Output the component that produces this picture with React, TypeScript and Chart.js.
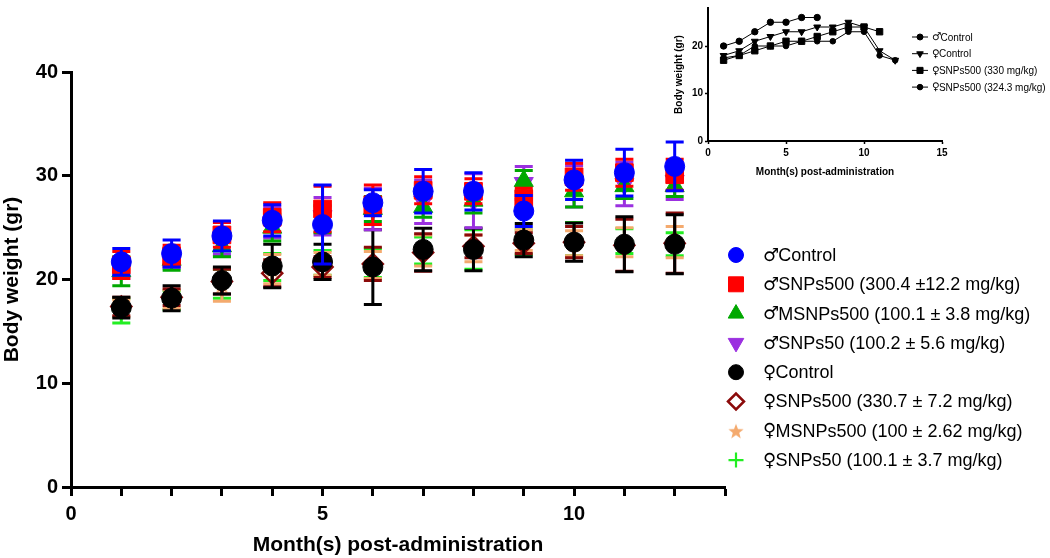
import React, { useEffect, useRef } from 'react';
import { Chart, registerables } from 'chart.js';
import { drawPoint } from 'chart.js/helpers';

Chart.register(...registerables);

// ---------- Main chart data ----------
const months = [1, 2, 3, 4, 5, 6, 7, 8, 9, 10, 11, 12];

const mControlMean = [21.7, 22.5, 24.2, 25.7, 25.3, 27.4, 28.5, 28.5, 26.6, 29.6, 30.3, 30.9];
const mControlSD = [1.3, 1.3, 1.45, 1.5, 3.8, 1.25, 2.1, 1.8, 1.5, 1.9, 2.25, 2.35];
const mSnps500Mean = [21.4, 22.3, 24.3, 26.0, 26.8, 27.2, 28.6, 28.5, 27.8, 29.9, 30.3, 30.1];
const mSnps500SD = [1.3, 1.0, 1.2, 1.4, 2.2, 1.9, 1.3, 1.2, 1.0, 1.3, 1.3, 1.5];
const mMsnps500Mean = [20.8, 21.9, 23.2, 25.0, 25.8, 26.8, 27.0, 27.6, 29.5, 28.5, 29.0, 29.0];
const mMsnps500SD = [1.4, 1.0, 1.0, 1.3, 1.3, 1.2, 1.0, 1.2, 1.0, 1.5, 1.2, 1.0];
const mSnps50Mean = [21.0, 22.0, 23.5, 25.5, 26.1, 26.8, 27.5, 27.6, 29.3, 29.0, 29.2, 29.5];
const mSnps50SD = [0.9, 0.9, 1.1, 1.5, 1.8, 2.0, 2.1, 2.6, 1.6, 2.0, 2.1, 1.8];
const fControlMean = [17.3, 18.2, 19.9, 21.3, 21.7, 21.2, 22.9, 22.9, 23.8, 23.6, 23.4, 23.4];
const fControlSD = [1.0, 1.2, 1.3, 2.1, 1.7, 3.6, 2.05, 2.05, 1.6, 1.85, 2.65, 2.85];
const fSnps500Mean = [17.4, 18.3, 19.8, 20.6, 21.2, 21.5, 22.6, 23.2, 23.5, 23.6, 23.3, 23.5];
const fSnps500SD = [0.9, 0.8, 1.2, 1.3, 1.0, 1.6, 1.8, 1.1, 1.0, 1.5, 2.5, 2.9];
const fMsnps500Mean = [17.2, 18.1, 19.5, 21.0, 21.5, 21.4, 22.8, 23.0, 23.8, 23.5, 23.6, 23.6];
const fMsnps500SD = [0.8, 0.9, 1.6, 1.4, 1.1, 1.3, 1.5, 1.3, 1.0, 1.2, 1.4, 1.5];
const fSnps50Mean = [17.0, 18.0, 19.6, 21.2, 21.6, 21.6, 22.8, 22.9, 23.6, 23.9, 23.7, 23.4];
const fSnps50SD = [1.2, 0.9, 1.4, 1.3, 1.2, 1.4, 1.3, 1.9, 1.2, 1.6, 1.2, 1.1];

const seriesLabels = [
  '♂Control',
  '♂SNPs500 (300.4 ±12.2 mg/kg)',
  '♂MSNPs500 (100.1 ± 3.8 mg/kg)',
  '♂SNPs50 (100.2 ± 5.6 mg/kg)',
  '♀Control',
  '♀SNPs500 (330.7 ± 7.2 mg/kg)',
  '♀MSNPs500 (100 ± 2.62 mg/kg)',
  '♀SNPs50 (100.1 ± 3.7 mg/kg)',
];

const xTickValues = [0, 5, 10];
const yTickStep = 10;

// ---------- Inset data ----------
const insetLabels = ['♂Control', '♀Control', '♀SNPs500 (330 mg/kg)', '♀SNPs500 (324.3 mg/kg)'];
const insetMonthsA = [1, 2, 3, 4, 5, 6, 7];
const insetMControl = [20, 21, 23, 25, 25, 26, 26];
const insetMonthsB = [1, 2, 3, 4, 5, 6, 7, 8, 9, 10, 11, 12];
const insetFControl = [18, 19, 21, 22, 23, 23, 24, 24, 25, 24, 19, 17];
const insetMonthsC = [1, 2, 3, 4, 5, 6, 7, 8, 9, 10, 11];
const insetFSnps330 = [17, 18, 19, 20, 21, 21, 22, 23, 24, 24, 23];
const insetFSnps324 = [17.5, 18, 20, 20, 20, 21, 21, 21, 23, 23, 18, 17];

const FONT = '"Liberation Sans", Arial, Helvetica, sans-serif';
const SYMBOL_FONT = '"DejaVu Sans", sans-serif';

const pts = (xs: number[], ys: number[]) => xs.map((x, i) => ({ x, y: ys[i] }));

function makeStar(size: number, color: string) {
  const c = document.createElement('canvas');
  c.width = size;
  c.height = size;
  const g = c.getContext('2d')!;
  g.fillStyle = color;
  g.beginPath();
  const R = size / 2;
  const r = R * 0.42;
  for (let i = 0; i < 10; i++) {
    const rad = i % 2 === 0 ? R : r;
    const a = -Math.PI / 2 + (i * Math.PI) / 5;
    const px = size / 2 + rad * Math.cos(a);
    const py = size / 2 + 1 + rad * Math.sin(a);
    if (i === 0) g.moveTo(px, py);
    else g.lineTo(px, py);
  }
  g.closePath();
  g.fill();
  return c;
}

const errorBarPlugin = {
  id: 'errorBars',
  beforeDatasetDraw(chart: any, args: any) {
    const ds = chart.data.datasets[args.index];
    if (!ds.errors) return;
    const yScale = chart.scales.y;
    const ctx = chart.ctx;
    ctx.save();
    ctx.strokeStyle = ds.errorColor;
    ctx.lineWidth = 3;
    args.meta.data.forEach((pt: any, i: number) => {
      const v = ds.data[i].y;
      const e = ds.errors[i];
      const x = pt.x;
      const yt = yScale.getPixelForValue(v + e);
      const yb = yScale.getPixelForValue(v - e);
      ctx.beginPath();
      ctx.moveTo(x, yt);
      ctx.lineTo(x, yb);
      ctx.moveTo(x - 9, yt);
      ctx.lineTo(x + 9, yt);
      ctx.moveTo(x - 9, yb);
      ctx.lineTo(x + 9, yb);
      ctx.stroke();
    });
    ctx.restore();
  },
};

const customLegendPlugin = {
  id: 'customLegend',
  afterDraw(chart: any, _args: any, opts: any) {
    if (!opts || !opts.show) return;
    const ctx = chart.ctx;
    ctx.save();
    ctx.textBaseline = 'middle';
    ctx.textAlign = 'left';
    chart.data.datasets.forEach((ds: any, i: number) => {
      const y = opts.y + i * opts.dy;
      if (opts.line) {
        ctx.strokeStyle = ds.borderColor;
        ctx.lineWidth = ds.borderWidth || 1;
        ctx.beginPath();
        ctx.moveTo(opts.x - opts.lineHalf, y);
        ctx.lineTo(opts.x + opts.lineHalf, y);
        ctx.stroke();
      }
      ctx.fillStyle = ds.legendFill || ds.pointBackgroundColor;
      ctx.strokeStyle = ds.pointBorderColor;
      ctx.lineWidth = ds.legendBorder || 1;
      drawPoint(
        ctx,
        {
          pointStyle: ds.legendStyle || ds.pointStyle,
          rotation: ds.pointRotation || 0,
          radius: ds.legendRadius,
          borderWidth: ds.legendBorder || 1,
        } as any,
        opts.x,
        y
      );
      ctx.fillStyle = '#000';
      const label: string = ds.label;
      const sym = label.charAt(0);
      const rest = label.slice(1);
      ctx.font = `${opts.symbolSize}px ${SYMBOL_FONT}`;
      ctx.fillText(sym, opts.textX, y + opts.symbolDy);
      const w = ctx.measureText(sym).width;
      ctx.font = `${opts.fontSize}px ${FONT}`;
      ctx.fillText(rest, opts.textX + w * opts.symbolAdvance, y + 1);
    });
    ctx.restore();
  },
};

export default function App() {
  const mainRef = useRef<HTMLCanvasElement | null>(null);
  const insetRef = useRef<HTMLCanvasElement | null>(null);

  useEffect(() => {
    const starBig = makeStar(19, '#F4AA6E');
    const starSmall = makeStar(16, '#F4AA6E');

    const mk = (
      label: string,
      means: number[],
      sds: number[],
      color: string,
      style: any,
      radius: number,
      legendRadius: number,
      extra: any = {}
    ) => ({
      label,
      data: pts(months, means),
      errors: sds,
      errorColor: color,
      pointStyle: style,
      pointRadius: radius,
      pointBackgroundColor: color,
      pointBorderColor: color,
      pointBorderWidth: 1,
      borderColor: color,
      backgroundColor: color,
      showLine: false,
      legendRadius,
      ...extra,
    });

    const datasets: any[] = [
      mk(seriesLabels[0], mControlMean, mControlSD, '#0000FF', 'circle', 10, 7.5),
      mk(seriesLabels[1], mSnps500Mean, mSnps500SD, '#FF0000', 'rect', 12.5, 10.6),
      mk(seriesLabels[2], mMsnps500Mean, mMsnps500SD, '#00A800', 'triangle', 11, 9),
      mk(seriesLabels[3], mSnps50Mean, mSnps50SD, '#9B30E0', 'triangle', 11, 9, { pointRotation: 180 }),
      mk(seriesLabels[4], fControlMean, fControlSD, '#000000', 'circle', 10, 7.5),
      mk(seriesLabels[5], fSnps500Mean, fSnps500SD, '#8B0A0A', 'rectRot', 10, 8, {
        pointBackgroundColor: 'rgba(0,0,0,0)',
        pointBorderWidth: 2.5,
        legendFill: '#FFFFFF',
        legendBorder: 2.5,
      }),
      mk(seriesLabels[6], fMsnps500Mean, fMsnps500SD, '#F4AA6E', starBig, 9, 8, { legendStyle: starSmall }),
      mk(seriesLabels[7], fSnps50Mean, fSnps50SD, '#22EE22', 'cross', 9, 7.5, {
        pointBorderWidth: 2.5,
        legendBorder: 2.2,
      }),
    ];

    const tickFont = { family: FONT, size: 20, weight: 'bold' as const };
    const titleFont = { family: FONT, size: 21, weight: 'bold' as const };

    const main = new Chart(mainRef.current!, {
      type: 'scatter',
      data: { datasets },
      plugins: [errorBarPlugin, customLegendPlugin],
      options: {
        animation: false,
        responsive: false,
        layout: { padding: { top: 72, right: 325, bottom: 0, left: 0 } },
        plugins: {
          legend: { display: false },
          tooltip: { enabled: false },
          customLegend: {
            show: true,
            x: 736,
            y: 255,
            dy: 29.3,
            textX: 763,
            fontSize: 18,
            symbolSize: 18,
            symbolDy: 1,
            symbolAdvance: 0.95,
          },
        } as any,
        scales: {
          x: {
            type: 'linear',
            min: 0,
            max: 13,
            ticks: {
              stepSize: 1,
              autoSkip: false,
              maxRotation: 0,
              color: '#000',
              font: tickFont,
              padding: 6,
              callback: (v: any) => (xTickValues.includes(Number(v)) ? String(v) : ''),
            },
            grid: {
              drawOnChartArea: false,
              drawTicks: true,
              tickLength: 9,
              tickWidth: 3,
              tickColor: '#000',
              color: '#000',
            },
            border: { color: '#000', width: 3 },
            title: {
              display: true,
              text: 'Month(s) post-administration',
              color: '#000',
              font: titleFont,
              padding: { top: 0, bottom: 0 },
            },
            afterFit: (s: any) => {
              s.height = 71;
            },
          },
          y: {
            type: 'linear',
            min: 0,
            max: 40,
            ticks: { stepSize: yTickStep, color: '#000', font: tickFont, padding: 4 },
            grid: {
              drawOnChartArea: false,
              drawTicks: true,
              tickLength: 9,
              tickWidth: 3,
              tickColor: '#000',
              color: '#000',
            },
            border: { color: '#000', width: 3 },
            title: {
              display: true,
              text: 'Body weight (gr)',
              color: '#000',
              font: titleFont,
              padding: { top: 0, bottom: 0 },
            },
            afterFit: (s: any) => {
              s.width = 71;
            },
          },
        },
      },
    });

    const insetDs = (label: string, xs: number[], ys: number[], style: string, r: number, lr: number, rot = 0) => ({
      label,
      data: pts(xs, ys),
      borderColor: '#000',
      borderWidth: 1,
      backgroundColor: '#000',
      pointStyle: style,
      pointRadius: r,
      pointRotation: rot,
      pointBackgroundColor: '#000',
      pointBorderColor: '#000',
      pointBorderWidth: 1,
      legendRadius: lr,
      tension: 0,
    });

    const smallTick = { family: FONT, size: 10, weight: 'bold' as const };
    const inset = new Chart(insetRef.current!, {
      type: 'line',
      data: {
        datasets: [
          insetDs(insetLabels[0], insetMonthsA, insetMControl, 'circle', 3.2, 3),
          insetDs(insetLabels[1], insetMonthsB, insetFControl, 'triangle', 4, 3.8, 180),
          insetDs(insetLabels[2], insetMonthsC, insetFSnps330, 'rect', 4.5, 4.3),
          insetDs(insetLabels[3], insetMonthsB, insetFSnps324, 'circle', 2.8, 2.8),
        ] as any,
      },
      plugins: [customLegendPlugin],
      options: {
        animation: false,
        responsive: false,
        layout: { padding: { top: 7, right: 108, bottom: 0, left: 0 } },
        plugins: {
          legend: { display: false },
          tooltip: { enabled: false },
          customLegend: {
            show: true,
            line: true,
            lineHalf: 8,
            x: 270,
            y: 37,
            dy: 16.7,
            textX: 282,
            fontSize: 10,
            symbolSize: 10.5,
            symbolDy: 0.5,
            symbolAdvance: 0.9,
          },
        } as any,
        scales: {
          x: {
            type: 'linear',
            min: 0,
            max: 15,
            ticks: { stepSize: 5, color: '#000', font: smallTick, padding: 3, maxRotation: 0 },
            grid: {
              drawOnChartArea: false,
              drawTicks: true,
              tickLength: 3,
              tickWidth: 1.5,
              tickColor: '#000',
              color: '#000',
            },
            border: { color: '#000', width: 2 },
            title: {
              display: true,
              text: 'Month(s) post-administration',
              color: '#000',
              font: { family: FONT, size: 10, weight: 'bold' },
              padding: { top: 0, bottom: 12 },
            },
            afterFit: (s: any) => {
              s.height = 49;
            },
          },
          y: {
            type: 'linear',
            min: 0,
            max: 28,
            ticks: { stepSize: 10, includeBounds: false, color: '#000', font: smallTick, padding: 2 },
            grid: {
              drawOnChartArea: false,
              drawTicks: true,
              tickLength: 3,
              tickWidth: 1.5,
              tickColor: '#000',
              color: '#000',
            },
            border: { color: '#000', width: 2 },
            title: {
              display: true,
              text: 'Body weight (gr)',
              color: '#000',
              font: { family: FONT, size: 10, weight: 'bold' },
              padding: { top: 23, bottom: 0 },
            },
            afterFit: (s: any) => {
              s.width = 58;
            },
          },
        },
      },
    });

    return () => {
      main.destroy();
      inset.destroy();
    };
  }, []);

  return (
    <div style={{ position: 'fixed', left: 0, top: 0, width: 1050, height: 558, background: '#fff' }}>
      <canvas
        ref={mainRef}
        width={1050}
        height={558}
        style={{ position: 'absolute', left: 0, top: 0, width: 1050, height: 558 }}
      />
      <canvas
        ref={insetRef}
        width={400}
        height={190}
        style={{ position: 'absolute', left: 650, top: 0, width: 400, height: 190 }}
      />
    </div>
  );
}
